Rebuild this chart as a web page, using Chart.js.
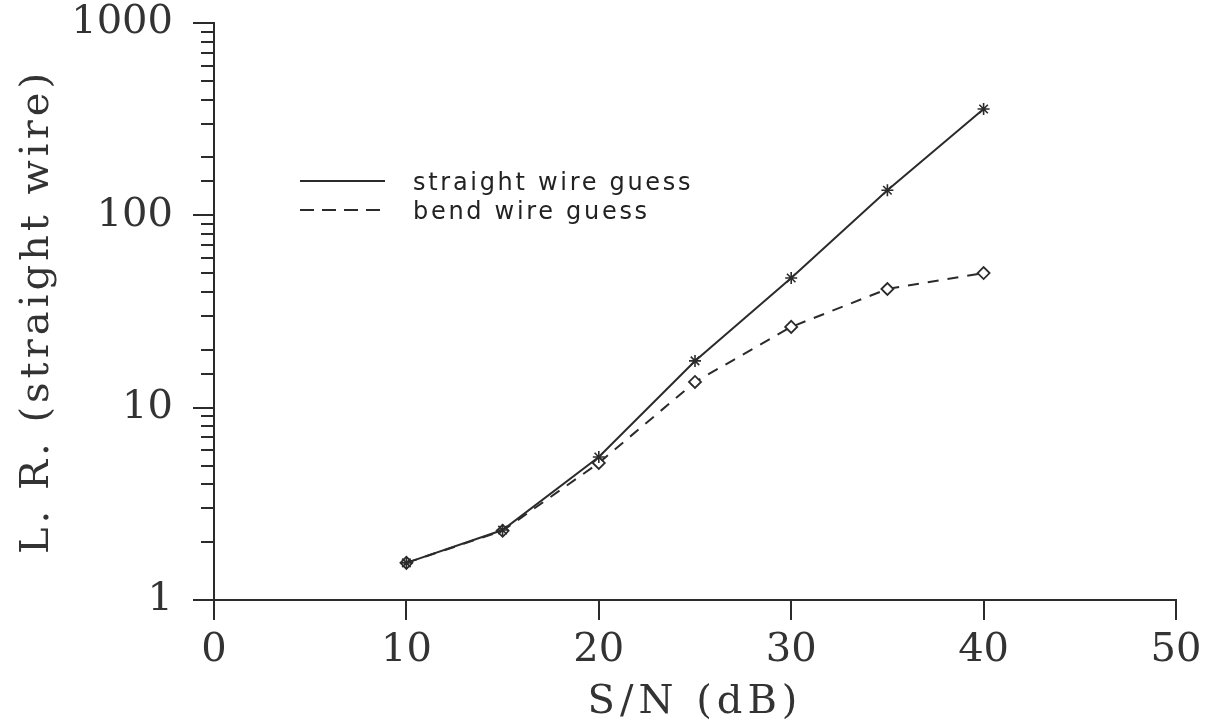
<!DOCTYPE html>
<html>
<head>
<meta charset="utf-8">
<script src="https://cdn.jsdelivr.net/npm/chart.js@4/dist/chart.umd.min.js"></script>
<style>
  html, body { margin: 0; padding: 0; background: #fff; }
  #wrap { width: 1210px; height: 727px; }
</style>
</head>
<body>
<div id="wrap"><canvas id="c" width="1210" height="727"></canvas></div>
<script>
// ---- data ----
const snrDb = [10, 15, 20, 25, 30, 35, 40];
const straightWire = [1.56, 2.31, 5.54, 17.5, 47.2, 135, 357];
const bendWire = [1.56, 2.29, 5.16, 13.6, 26.3, 41.4, 50.1];
const seriesLabels = ['straight wire guess', 'bend wire guess'];
const xTickValues = [0, 10, 20, 30, 40, 50];
const yMajorTicks = [1, 10, 100, 1000];
const xTitle = 'S/N (dB)';
const yTitle = 'L. R. (straight wire)';

const ink = '#2b2b2b';
const serif = '"DejaVu Serif", serif';

function toPoints(xs, ys) { return xs.map((x, i) => ({ x: x, y: ys[i] })); }

// spaced titles (letterSpacing applied only while titles draw)
const spacedTitles = {
  id: 'spacedTitles',
  beforeDraw(chart) {
    [['x', '5px'], ['y', '4px']].forEach(([id, sp]) => {
      const s = chart.scales[id];
      if (s && !s._spaced) {
        const orig = s.drawTitle.bind(s);
        s.drawTitle = function () {
          const c = this.ctx;
          c.save();
          c.letterSpacing = sp;
          orig();
          c.restore();
        };
        s._spaced = true;
      }
    });
  }
};

// longer marks at the decades of the log axis
const majorTicks = {
  id: 'majorTicks',
  afterDraw(chart) {
    const y = chart.scales.y;
    const ctx = chart.ctx;
    const xr = chart.chartArea.left;
    ctx.save();
    ctx.strokeStyle = ink;
    ctx.lineWidth = 2;
    yMajorTicks.forEach(v => {
      const py = Math.round(y.getPixelForValue(v));
      ctx.beginPath();
      ctx.moveTo(xr - 21, py);
      ctx.lineTo(xr - 12, py);
      ctx.stroke();
    });
    ctx.restore();
  }
};

// legend inside plot area, as in the reference
const insideLegend = {
  id: 'insideLegend',
  afterDraw(chart) {
    const ctx = chart.ctx;
    const x0 = 300, x1 = 385, tx = 413;
    const rows = [181, 210];
    ctx.save();
    ctx.font = '24px "DejaVu Sans", sans-serif';
    ctx.letterSpacing = '2.7px';
    ctx.textBaseline = 'middle';
    ctx.fillStyle = '#222';
    chart.data.datasets.forEach((ds, i) => {
      ctx.strokeStyle = ink;
      ctx.lineWidth = 2;
      ctx.setLineDash(i === 0 ? [] : [14, 8]);
      ctx.beginPath();
      ctx.moveTo(x0, rows[i]);
      ctx.lineTo(x1, rows[i]);
      ctx.stroke();
      ctx.setLineDash([]);
      ctx.fillText(ds.label, tx, rows[i] + 3);
    });
    ctx.restore();
  }
};

new Chart(document.getElementById('c'), {
  type: 'scatter',
  data: {
    datasets: [
      {
        label: seriesLabels[0],
        data: toPoints(snrDb, straightWire),
        showLine: true,
        borderColor: ink,
        borderWidth: 2,
        pointStyle: 'star',
        pointRadius: 6,
        pointBorderWidth: 1.6,
        pointBorderColor: ink,
        backgroundColor: ink
      },
      {
        label: seriesLabels[1],
        data: toPoints(snrDb, bendWire),
        showLine: true,
        borderColor: ink,
        borderWidth: 2,
        borderDash: [11, 9],
        pointStyle: 'rectRot',
        pointRadius: 6,
        pointBorderWidth: 1.8,
        pointBorderColor: ink,
        pointBackgroundColor: '#fff'
      }
    ]
  },
  options: {
    responsive: false,
    animation: false,
    layout: { padding: { top: 23, right: 34, left: 0, bottom: 0 } },
    plugins: { legend: { display: false }, tooltip: { enabled: false } },
    scales: {
      x: {
        type: 'linear',
        min: 0, max: 50,
        afterBuildTicks: (s) => { s.ticks = xTickValues.map(v => ({ value: v })); },
        afterFit: (s) => { s.height = 127; s.paddingLeft = 0; s.paddingRight = 0; },
        grid: { drawOnChartArea: false, drawTicks: true, tickLength: 20, color: ink, tickColor: ink, lineWidth: 2 },
        border: { display: true, color: ink, width: 2 },
        ticks: { color: '#333', font: { family: serif, size: 40 }, padding: 7, maxRotation: 0, autoSkip: false },
        title: { display: true, text: xTitle, color: '#333', font: { family: serif, size: 40 }, padding: { top: 6, bottom: 0 } }
      },
      y: {
        type: 'logarithmic',
        min: 1, max: 1000,
        afterFit: (s) => { s.width = 214; s.paddingTop = 0; s.paddingBottom = 0; },
        grid: { drawOnChartArea: false, drawTicks: true, tickLength: 13, color: ink, tickColor: ink, lineWidth: 2 },
        border: { display: true, color: ink, width: 2 },
        ticks: {
          color: '#333',
          font: { family: serif, size: 40 },
          padding: 28,
          autoSkip: false,
          callback: (v) => yMajorTicks.includes(v) ? String(v) : ''
        },
        title: { display: true, text: yTitle, color: '#333', font: { family: serif, size: 40 }, padding: { top: 14, bottom: 0 } }
      }
    }
  },
  plugins: [spacedTitles, majorTicks, insideLegend]
});
</script>
</body>
</html>
